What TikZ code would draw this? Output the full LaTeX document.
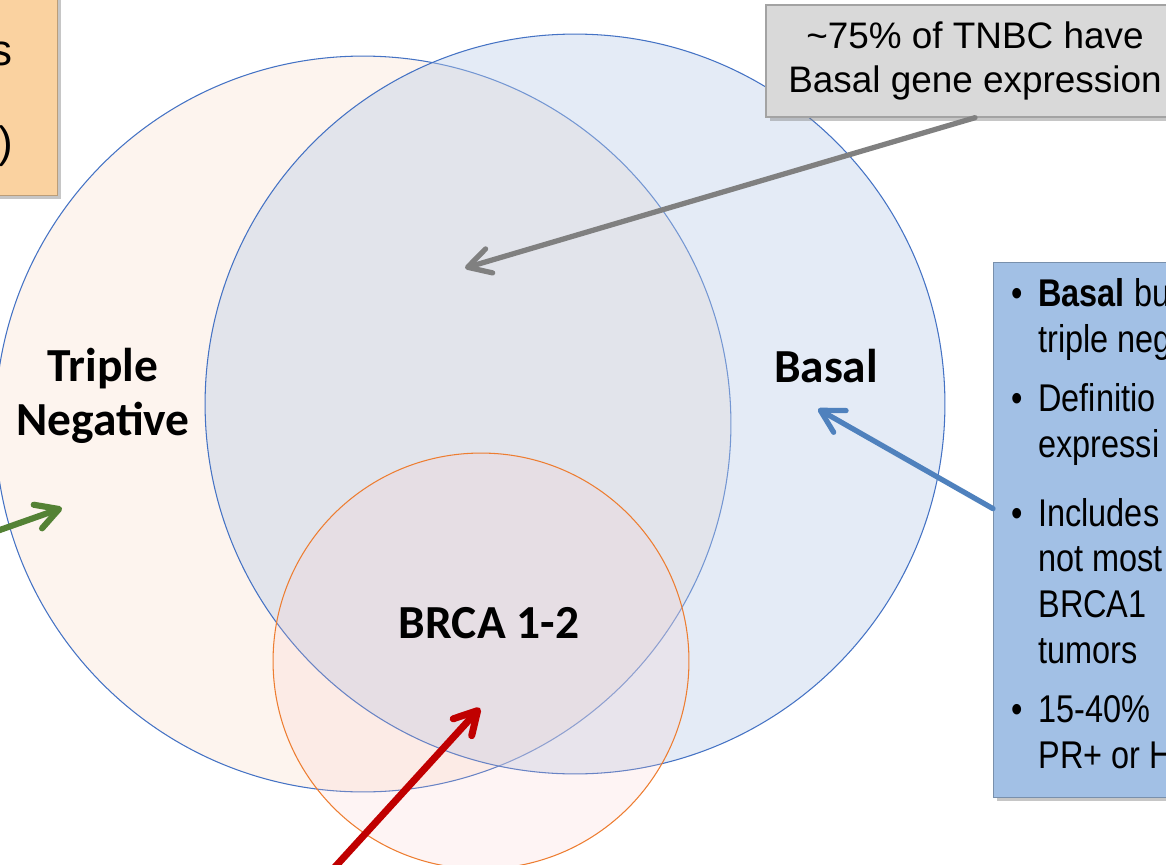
\documentclass[tikz,border=0pt]{standalone}
\usepackage{fontspec}
\setmainfont{Liberation Sans}
\newfontfamily\labelfont{Carlito}
\newfontfamily\narrowfont[FakeStretch=0.84]{Liberation Sans}
\usetikzlibrary{arrows.meta, positioning, shadows}
\definecolor{tnfill}{RGB}{253,244,238}
\definecolor{basalfill}{RGB}{187,205,232}
\definecolor{brcafill}{RGB}{250,200,200}
\definecolor{ringblue}{RGB}{68,114,196}
\definecolor{ringorange}{RGB}{237,125,49}
\definecolor{notegray}{RGB}{217,217,217}
\definecolor{noteblue}{RGB}{162,192,229}
\definecolor{notepeach}{RGB}{250,210,160}
\definecolor{arrgray}{RGB}{128,128,128}
\definecolor{arrblue}{RGB}{79,129,189}
\definecolor{arrgreen}{RGB}{84,130,53}
\definecolor{arrred}{RGB}{192,0,0}

\begin{document}
\begin{tikzpicture}[x=0.02cm, y=-0.02cm,
    ring/.style={circle, draw, line width=0.6pt, inner sep=0pt},
    setlabel/.style={font=\labelfont\bfseries\fontsize{27}{30.5}\selectfont, align=center},
    note/.style={draw=#1!75!black, fill=#1, line width=0.8pt,
        drop shadow={shadow xshift=2pt, shadow yshift=-2pt, opacity=0.45}},
    pointer/.style={line width=#1, line cap=round,
        -{Straight Barb[length=0.45cm, width=0.5cm, round]}},
  ]
    \useasboundingbox (0,0) rectangle (1166,865);

    % the three sets
    \node[ring, draw=ringblue, fill=tnfill, minimum size=14.72cm] (tn) at (363,424) {};
    \node[ring, draw=ringblue, fill=basalfill, fill opacity=0.4, minimum size=14.8cm] (basal) at (575,404) {};
    \node[ring, draw=ringorange, fill=brcafill, fill opacity=0.2, minimum size=8.32cm] (brca) at (481,661) {};

    \node[setlabel] (tnlabel) at (103,396) {Triple\\Negative};
    \node[setlabel] (basallabel) at (826,366) {Basal};
    \node[setlabel] (brcalabel) at (489,623) {BRCA 1-2};

    % call-out boxes
    \node[note=notepeach, anchor=north east, minimum width=9.16cm, minimum height=4.3cm] (topnote) at (58,-20) {};
    \node[anchor=north east, inner sep=0pt, align=right, font=\fontsize{25}{26.2}\selectfont] (toptext) at (13,42) {s\\\mbox{}\\)};

    \node[note=notegray, minimum width=8.36cm, minimum height=2.24cm, align=center,
        font=\fontsize{21}{25}\selectfont] (tnbcnote) at (975,61) {\textasciitilde75\% of TNBC have\\Basal gene expression};

    \node[note=noteblue, anchor=north west, minimum width=6.2cm, minimum height=10.7cm] (basalnote) at (993,262) {};
    \node[anchor=north west, inner sep=0pt, align=left, font=\narrowfont\fontsize{22}{26}\selectfont] (basaltext) at (1011,278)
        {\makebox[0.54cm][l]{\textbullet}\textbf{Basal} bu\\\hspace*{0.54cm}triple neg\\[0.28cm]
         \makebox[0.54cm][l]{\textbullet}Definitio\\\hspace*{0.54cm}expressi\\[0.46cm]
         \makebox[0.54cm][l]{\textbullet}Includes\\\hspace*{0.54cm}not most\\\hspace*{0.54cm}BRCA1\\\hspace*{0.54cm}tumors\\[0.28cm]
         \makebox[0.54cm][l]{\textbullet}15-40\%\\\hspace*{0.54cm}PR+ or H};

    % arrows
    \coordinate (overlaptip) at (465,268);
    \coordinate (basaltip) at (818,409);
    \coordinate (greenfrom) at (-20,537);
    \coordinate (greentip) at (62,508);
    \coordinate (redfrom) at (314,890);
    \coordinate (redtip) at (480,708);

    \draw[pointer=3pt, arrgray] (tnbcnote.south) -- (overlaptip);
    \draw[pointer=3pt, arrblue] ([yshift=0.43cm]basalnote.west) -- (basaltip);
    \draw[pointer=3.5pt, arrgreen] (greenfrom) -- (greentip);
    \draw[pointer=4pt, arrred] (redfrom) -- (redtip);
\end{tikzpicture}
\end{document}
